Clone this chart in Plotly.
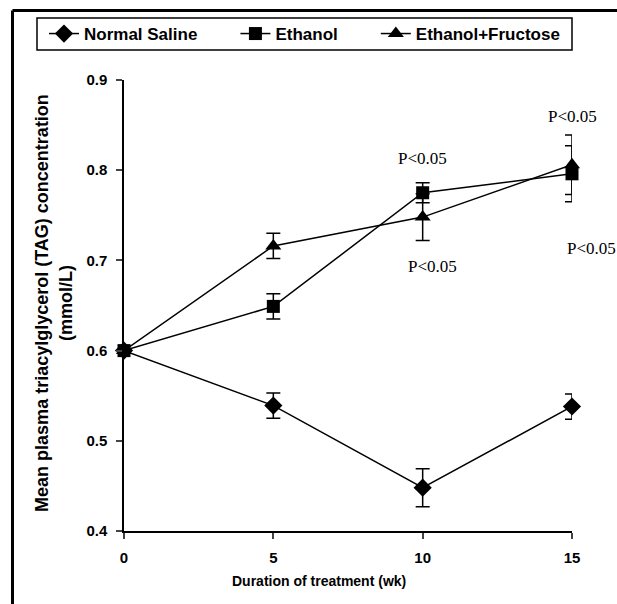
import plotly.graph_objects as go

weeks = [0, 5, 10, 15]
saline = [0.600, 0.539, 0.448, 0.538]
saline_err = [0.0, 0.014, 0.021, 0.014]
ethanol = [0.600, 0.649, 0.775, 0.796]
ethanol_err = [0.0, 0.014, 0.011, 0.031]
eth_fru = [0.600, 0.716, 0.748, 0.806]
eth_fru_err = [0.0, 0.014, 0.026, 0.033]

x_ticks = [0, 5, 10, 15]
y_ticks = [0.4, 0.5, 0.6, 0.7, 0.8, 0.9]

series_names = ["Normal Saline", "Ethanol", "Ethanol+Fructose"]

# P<0.05 annotations: (x, y) in data units, plus pixel nudge
p_labels = ["P<0.05", "P<0.05", "P<0.05", "P<0.05"]
p_x = [15.0, 10.0, 15.0, 10.0]
p_y = [0.859, 0.813, 0.713, 0.693]
p_shift = [0, 0, 19, 10]

PAD = "&nbsp;" * 7

fig = go.Figure()

line_style = dict(color="black", width=1.5)
err_style = dict(type="data", visible=True, color="black", thickness=1.5, width=7)

fig.add_trace(go.Scatter(
    x=weeks, y=saline, name=series_names[0] + PAD, mode="lines+markers",
    line=line_style, marker=dict(symbol="diamond", size=14, color="black"),
    error_y=dict(array=saline_err, **err_style), cliponaxis=False, legendrank=1))
fig.add_trace(go.Scatter(
    x=weeks, y=eth_fru, name=series_names[2],
    mode="lines+markers",
    line=line_style, marker=dict(symbol="triangle-up", size=14, color="black"),
    error_y=dict(array=eth_fru_err, **err_style), cliponaxis=False, legendrank=3))
fig.add_trace(go.Scatter(
    x=weeks, y=ethanol, name=series_names[1] + PAD, mode="lines+markers",
    line=line_style, marker=dict(symbol="square", size=13, color="black"),
    error_y=dict(array=ethanol_err, **err_style), cliponaxis=False, legendrank=2))

for t, xx, yy, sh in zip(p_labels, p_x, p_y, p_shift):
    fig.add_annotation(x=xx, y=yy, xshift=sh, text=t.replace("<", "&lt;"), showarrow=False,
                       font=dict(family="Liberation Serif", size=17, color="black"))

fig.add_annotation(xref="paper", yref="paper", x=-0.157, y=0.505, xanchor="center",
                   yanchor="middle",
                   text="Mean plasma triacylglycerol (TAG) concentration<br>(mmol/L)",
                   textangle=-90, showarrow=False,
                   font=dict(family="Liberation Sans", size=18, color="black", weight="bold"))
fig.add_annotation(xref="paper", yref="paper", x=0.435, y=-0.111, yanchor="middle",
                   text="Duration of treatment (wk)", showarrow=False,
                   font=dict(family="Liberation Sans", size=14, color="black", weight="bold"))

# image frame (top and left edges)
fig.add_shape(type="line", xref="paper", yref="paper", x0=-0.2489, x1=1.2, y0=1.1541, y1=1.1541,
              line=dict(color="black", width=3))
fig.add_shape(type="line", xref="paper", yref="paper", x0=-0.2489, x1=-0.2489, y0=-0.3, y1=1.1541,
              line=dict(color="black", width=3))
# legend box
fig.add_shape(type="rect", xref="paper", yref="paper", x0=-0.1942, x1=1.0,
              y0=1.0665, y1=1.1375, line=dict(color="black", width=1.5))

fig.update_layout(
    width=617, height=604,
    margin=dict(l=124, r=45, t=80, b=73, autoexpand=False),
    plot_bgcolor="white", paper_bgcolor="white",
    font=dict(family="Liberation Sans", color="black"),
    showlegend=True,
    legend=dict(orientation="h", x=-0.1786, y=1.102, xanchor="left", yanchor="middle",
                borderwidth=0, bgcolor="rgba(0,0,0,0)",
                font=dict(family="Liberation Sans", size=17, color="black", weight="bold"),
                itemwidth=30, tracegroupgap=0),
    xaxis=dict(range=[0, 15], tickvals=x_ticks, ticks="outside", ticklen=6, tickwidth=1.5,
               showline=True, linecolor="black", linewidth=1.5, showgrid=False, zeroline=False,
               ticklabelstandoff=6,
               tickfont=dict(family="Liberation Sans", size=15, color="black", weight="bold")),
    yaxis=dict(range=[0.4, 0.9], tickvals=y_ticks, tickformat=".1f", ticks="outside", ticklen=6,
               tickwidth=1.5, showline=True, linecolor="black", linewidth=1.5, showgrid=False,
               zeroline=False, ticklabelstandoff=6,
               tickfont=dict(family="Liberation Sans", size=15, color="black", weight="bold")),
)

fig.write_html("out.html", config={"displayModeBar": False},
               post_script="document.body.style.margin='0';document.body.style.overflow='hidden';")
